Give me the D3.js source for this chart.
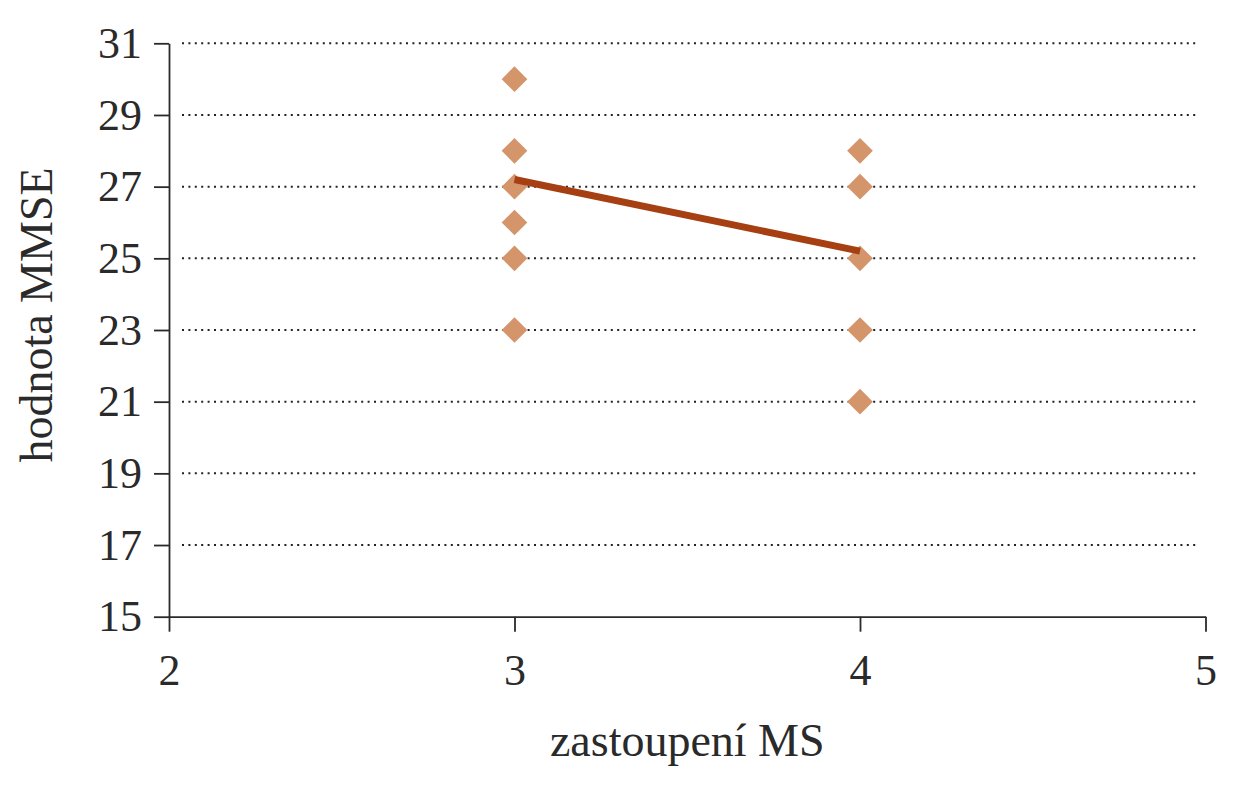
<!DOCTYPE html>
<html>
<head>
<meta charset="utf-8">
<script src="https://cdn.jsdelivr.net/npm/d3@7"></script>
<style>
  body { margin: 0; background: #fff; }
  text { font-family: "Liberation Serif", "DejaVu Serif", serif; fill: #2a2a2a; }
</style>
</head>
<body>
<div id="chart"></div>
<script>
// points: x = zastoupení MS, y = hodnota MMSE
const pointsX = [3, 3, 3, 3, 3, 3, 4, 4, 4, 4, 4];
const pointsY = [30, 28, 27, 26, 25, 23, 28, 27, 25, 23, 21];

// trend line end points
const lineX = [3, 4];
const lineY = [27.2, 25.2];

const xTicks = [2, 3, 4, 5];
const yTicks = [15, 17, 19, 21, 23, 25, 27, 29, 31];

const W = 1237, H = 800;
const margin = {top: 43.3, right: 31.5, bottom: 183.3, left: 169};
const width = W - margin.left - margin.right;
const height = H - margin.top - margin.bottom;

const svg = d3.select("#chart").append("svg")
    .attr("width", W)
    .attr("height", H);

const g = svg.append("g")
    .attr("transform", `translate(${margin.left},${margin.top})`);

const x = d3.scaleLinear().domain([2, 5]).range([0, width]);
const y = d3.scaleLinear().domain([15, 31]).range([height, 0]);

// dotted grid
g.selectAll(".grid")
  .data(yTicks.filter(d => d > 15))
  .enter().append("line")
  .attr("class", "grid")
  .attr("x1", 13)
  .attr("x2", width - 8)
  .attr("y1", d => y(d))
  .attr("y2", d => y(d))
  .attr("stroke", "#222")
  .attr("stroke-width", 2)
  .attr("stroke-dasharray", "2,4.4");

// axes
const yAxis = g.append("g")
  .call(d3.axisLeft(y).tickValues(yTicks).tickSize(15).tickSizeOuter(0).tickPadding(12));

const xAxis = g.append("g")
  .attr("transform", `translate(0,${height})`)
  .call(d3.axisBottom(x).tickValues(xTicks).tickFormat(d3.format("d"))
    .tickSize(15).tickSizeOuter(0).tickPadding(22));

[xAxis, yAxis].forEach(a => {
  a.selectAll("path, line").attr("stroke", "#2a2a2a").attr("stroke-width", 1.8);
  a.selectAll("text")
    .style("font-family", '"Liberation Serif", "DejaVu Serif", serif')
    .style("font-size", "44px")
    .attr("fill", "#2a2a2a");
});

// diamonds
const diamond = d3.symbol().type(d3.symbolSquare).size(330);
g.selectAll(".pt")
  .data(pointsX.map((d, i) => [d, pointsY[i]]))
  .enter().append("path")
  .attr("class", "pt")
  .attr("d", diamond)
  .attr("transform", d => `translate(${x(d[0])},${y(d[1])}) rotate(45)`)
  .attr("fill", "#d4956b");

// trend line
g.append("path")
  .datum(lineX.map((d, i) => [d, lineY[i]]))
  .attr("fill", "none")
  .attr("stroke", "#a63f12")
  .attr("stroke-width", 7)
  .attr("d", d3.line().x(d => x(d[0])).y(d => y(d[1])));

// axis titles
svg.append("text")
  .attr("x", margin.left + width / 2)
  .attr("y", 756)
  .attr("text-anchor", "middle")
  .style("font-size", "46px")
  .text("zastoupení MS");

svg.append("text")
  .attr("transform", "translate(52,315) rotate(-90)")
  .attr("text-anchor", "middle")
  .style("font-size", "46px")
  .text("hodnota MMSE");
</script>
</body>
</html>
